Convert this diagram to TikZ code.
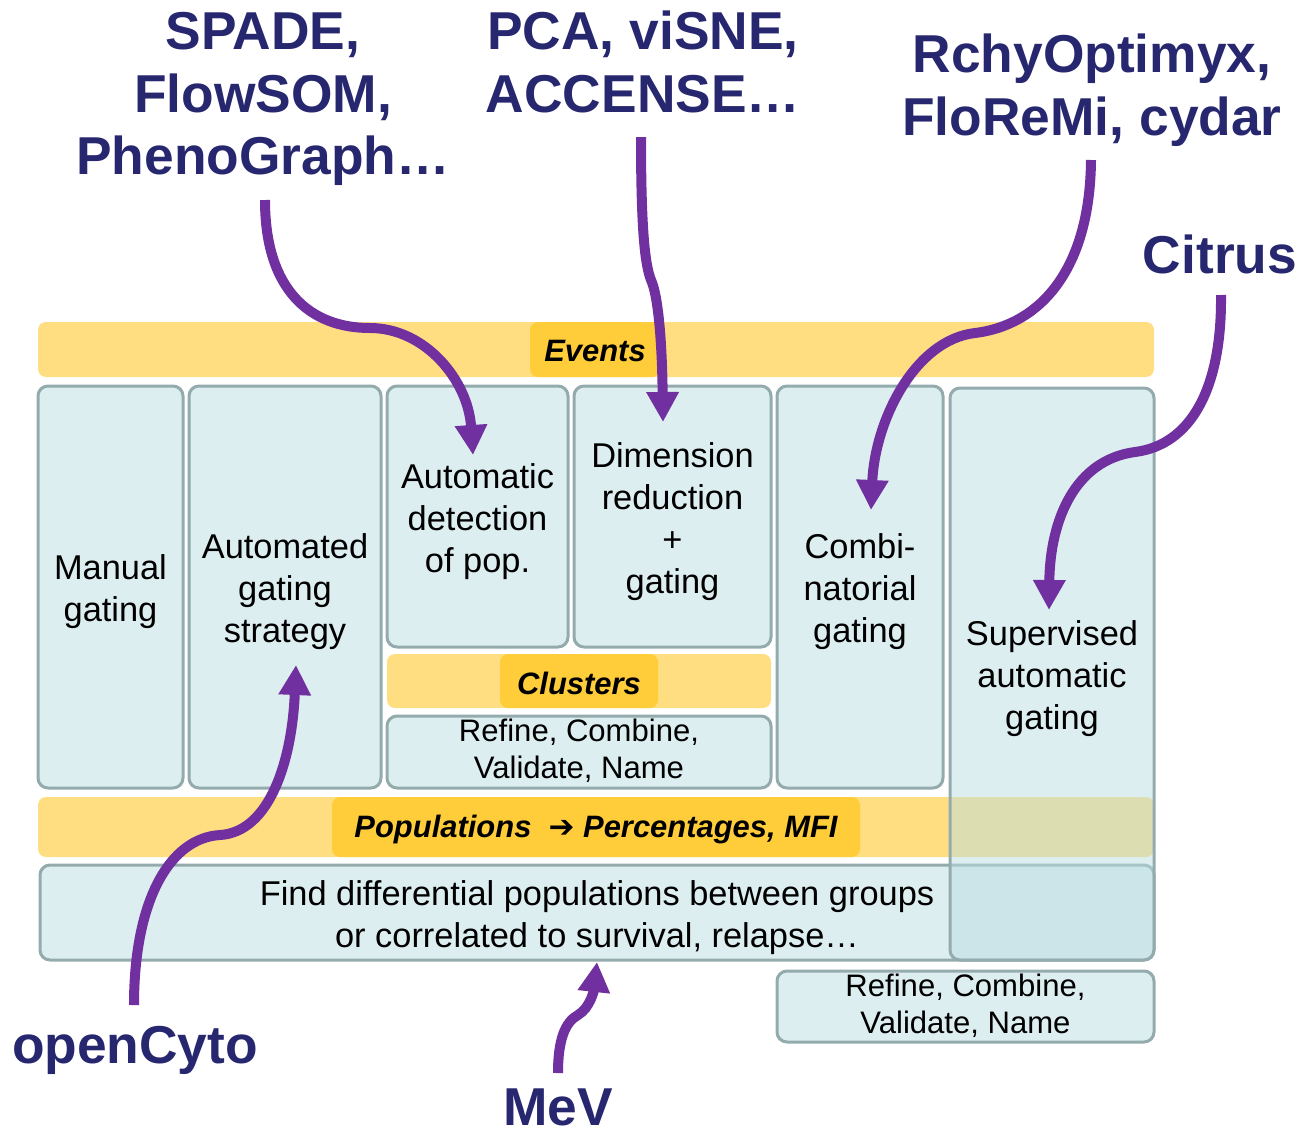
\documentclass[tikz,border=0pt]{standalone}
\usepackage{fontspec}
\setmainfont{Liberation Sans}
\newfontfamily\arrfont{DejaVu Sans}
\usetikzlibrary{arrows.meta}
\definecolor{lyel}{HTML}{FFDE82}
\definecolor{dyel}{HTML}{FFCD3A}
\definecolor{cboxfill}{HTML}{DDEEF0}
\definecolor{cbord}{HTML}{93ABAD}
\definecolor{purp}{HTML}{7030A0}
\definecolor{navy}{HTML}{27276F}
\definecolor{supfill}{HTML}{BBDDE1}
\newcommand\placebox[7]{\node[#6, minimum width={(#4-#2)*0.75pt}, minimum height={(#5-#3)*0.75pt}] (#1) at ({(#2+#4)/2},{(#3+#5)/2}) {};
  \node[#6txt] (#1-t) at (#1.center) {#7};}
\tikzset{
  cellbox/.style={draw=cbord, line width=2.25pt, fill=cboxfill, rounded corners=7.5pt, inner sep=0pt, outer sep=0pt},
  cellboxtxt/.style={align=center, inner sep=0pt, yshift=-3.5pt, font=\fontsize{25.8}{31.5}\selectfont},
  smallbox/.style={cellbox},
  smallboxtxt/.style={align=center, inner sep=0pt, yshift=0.8pt, font=\fontsize{23.3}{27.75}\selectfont},
  supbox/.style={cellbox, fill=supfill, fill opacity=0.5},
  supboxtxt/.style={cellboxtxt},
  barbox/.style={fill=lyel, rounded corners=6pt, inner sep=0pt, outer sep=0pt},
  barboxtxt/.style={},
  tagbox/.style={fill=dyel, rounded corners=6pt, inner sep=0pt, outer sep=0pt},
  tagboxtxt/.style={inner sep=0pt, yshift=-1.5pt, font=\bfseries\itshape\fontsize{23.2}{26}\selectfont},
  toollbl/.style={text=navy, font=\bfseries\fontsize{40}{47}\selectfont, align=center, inner sep=0pt},
  toolarrow/.style={draw=purp, line width=7.5pt, -{Triangle[width=23pt,length=22.5pt]}}
}
\begin{document}
\begin{tikzpicture}[x=0.75pt,y=-0.75pt]
\useasboundingbox (0,0) rectangle (1303,1136);
% bars
\placebox{eventsbar}{38}{322}{1154}{377}{barbox}{}
\placebox{eventstag}{530}{322}{660}{377}{tagbox}{Events}
\placebox{popbar}{38}{797}{1154}{857}{barbox}{}
\placebox{poptag}{332}{797}{860}{857}{tagbox}{Populations\ \ {\arrfont ➔} Percentages, MFI}
\placebox{clbar}{387}{654}{771}{708}{barbox}{}
\placebox{cltag}{500}{654}{658}{708}{tagbox}{Clusters}
% boxes
\placebox{manual}{38}{386}{183}{788}{cellbox}{Manual\\gating}
\placebox{autogate}{189}{386}{381}{788}{cellbox}{Automated\\gating\\strategy}
\placebox{autodet}{387}{386}{568}{647}{cellbox}{Automatic\\detection\\of pop.}
\placebox{dimred}{574}{386}{771}{647}{cellbox}{Dimension\\reduction\\+\\gating}
\placebox{refine1}{387}{716}{771}{788}{smallbox}{Refine, Combine,\\Validate, Name}
\placebox{combi}{777}{386}{943}{788}{cellbox}{Combi-\\natorial\\gating}
\placebox{find}{40}{865}{1154}{960}{cellbox}{Find differential populations between groups\\or correlated to survival, relapse\dots}
\placebox{refine2}{777}{971}{1154}{1042}{smallbox}{Refine, Combine,\\Validate, Name}
\placebox{superv}{950}{388}{1154}{960}{supbox}{Supervised\\automatic\\gating}
% tool labels
\node[toollbl] (spade) at (263,99) {SPADE,\\FlowSOM,\\PhenoGraph\dots};
\node[toollbl] (pca) at (643,62) {PCA, viSNE,\\ACCENSE\dots};
\node[toollbl] (rchy) at (1092,90) {RchyOptimyx,\\FloReMi, cydar};
\node[toollbl] (citrus) at (1220,254) {Citrus};
\node[toollbl] (opencyto) at (135,1050) {openCyto};
\node[toollbl] (mev) at (558,1107) {MeV};
% arrow end coordinates
\coordinate (spadeS) at (265,200);
\coordinate (spadeE) at (473,455);
\coordinate (pcaS) at (641,137);
\coordinate (pcaE) at (663,422);
\coordinate (rchyS) at (1091,160);
\coordinate (rchyE) at (871,510);
\coordinate (citS) at (1221,295);
\coordinate (citE) at (1049,610);
\coordinate (ocS) at (134,1005);
\coordinate (ocE) at (296,665);
\coordinate (mevS) at (558,1073);
\coordinate (mevE) at (597,962);
% arrows
\draw[toolarrow] (spadeS) .. controls (265,290) and (310,328) .. (370,328) .. controls (425,328) and (468,380) .. (spadeE);
\draw[toolarrow] (pcaS) .. controls (641,230) and (645,265) .. (651,280) .. controls (658,295) and (662,340) .. (pcaE);
\draw[toolarrow] (rchyS) .. controls (1090,270) and (1040,325) .. (975,333) .. controls (915,340) and (875,420) .. (rchyE);
\draw[toolarrow] (citS) .. controls (1222,390) and (1190,445) .. (1135,452) .. controls (1075,460) and (1050,520) .. (citE);
\draw[toolarrow] (ocS) .. controls (134,900) and (170,838) .. (220,835) .. controls (270,832) and (292,760) .. (ocE);
\draw[toolarrow] (mevS) .. controls (558,1040) and (565,1022) .. (578,1015) .. controls (590,1008) and (594,990) .. (mevE);
\end{tikzpicture}
\end{document}
